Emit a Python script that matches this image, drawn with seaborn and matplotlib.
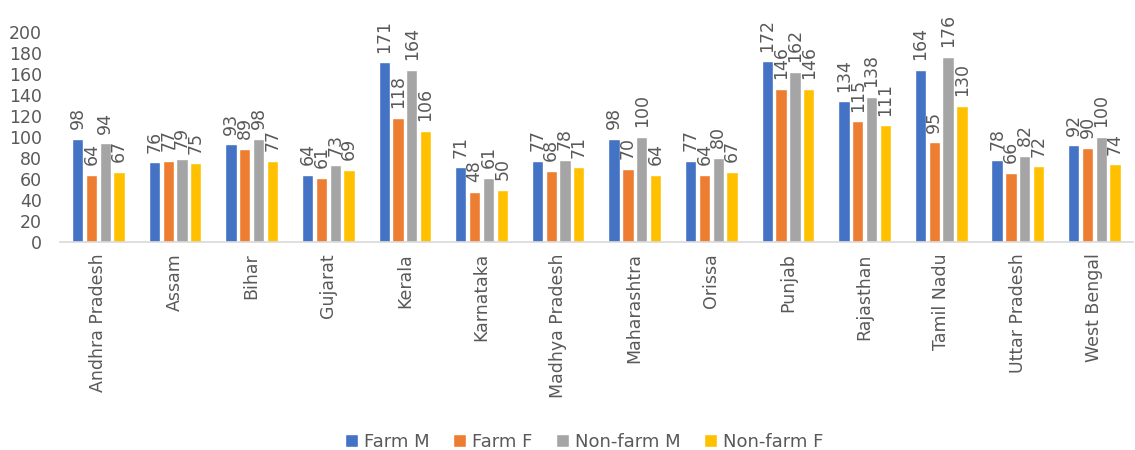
import pandas as pd
import matplotlib.pyplot as plt
import seaborn as sns

states = [
    "Andhra Pradesh", "Assam", "Bihar", "Gujarat", "Kerala", "Karnataka",
    "Madhya Pradesh", "Maharashtra", "Orissa", "Punjab", "Rajasthan",
    "Tamil Nadu", "Uttar Pradesh", "West Bengal",
]
farm_m = [98, 76, 93, 64, 171, 71, 77, 98, 77, 172, 134, 164, 78, 92]
farm_f = [64, 77, 89, 61, 118, 48, 68, 70, 64, 146, 115, 95, 66, 90]
nonfarm_m = [94, 79, 98, 73, 164, 61, 78, 100, 80, 162, 138, 176, 82, 100]
nonfarm_f = [67, 75, 77, 69, 106, 50, 71, 64, 67, 146, 111, 130, 72, 74]

series = ["Farm M", "Farm F", "Non-farm M", "Non-farm F"]
colors = ["#4472C4", "#ED7D31", "#A5A5A5", "#FFC000"]

df = pd.DataFrame(
    {"state": states, "Farm M": farm_m, "Farm F": farm_f,
     "Non-farm M": nonfarm_m, "Non-farm F": nonfarm_f}
).melt(id_vars="state", var_name="group", value_name="value")

sns.set_style("white")
plt.rcParams["font.family"] = ["DejaVu Sans"]
grey = "#595959"

fig = plt.figure(figsize=(11.35, 4.5), dpi=100)
ax = fig.add_axes([0.053, 0.462, 0.945, 0.467])

sns.barplot(
    data=df, x="state", y="value", hue="group", hue_order=series,
    palette=colors, saturation=1, width=0.72, gap=0.18, ax=ax, legend=True,
)

for c in ax.containers:
    ax.bar_label(c, fmt="%d", rotation=90, padding=7, fontsize=12.5, color=grey)

ax.set_ylim(0, 200)
ax.set_yticks(range(0, 201, 20))
ax.set_xlim(-0.5, len(states) - 0.5)
ax.set_xlabel("")
ax.set_ylabel("")
ax.tick_params(axis="x", labelrotation=90, labelsize=12.5, colors=grey, length=0, pad=8)
ax.tick_params(axis="y", labelsize=12.5, colors=grey, length=0, pad=13)
for s in ["top", "right", "left"]:
    ax.spines[s].set_visible(False)
ax.spines["bottom"].set_color("#D9D9D9")
ax.spines["bottom"].set_linewidth(1.2)

handles, labels = ax.get_legend_handles_labels()
ax.get_legend().remove()
fig.legend(
    handles, labels, loc="center", bbox_to_anchor=(0.515, 0.018), ncol=4,
    frameon=False, fontsize=13, handlelength=0.7, handleheight=0.7,
    columnspacing=1.3, handletextpad=0.35, labelcolor=grey,
)

fig.savefig("out.png", dpi=100)
